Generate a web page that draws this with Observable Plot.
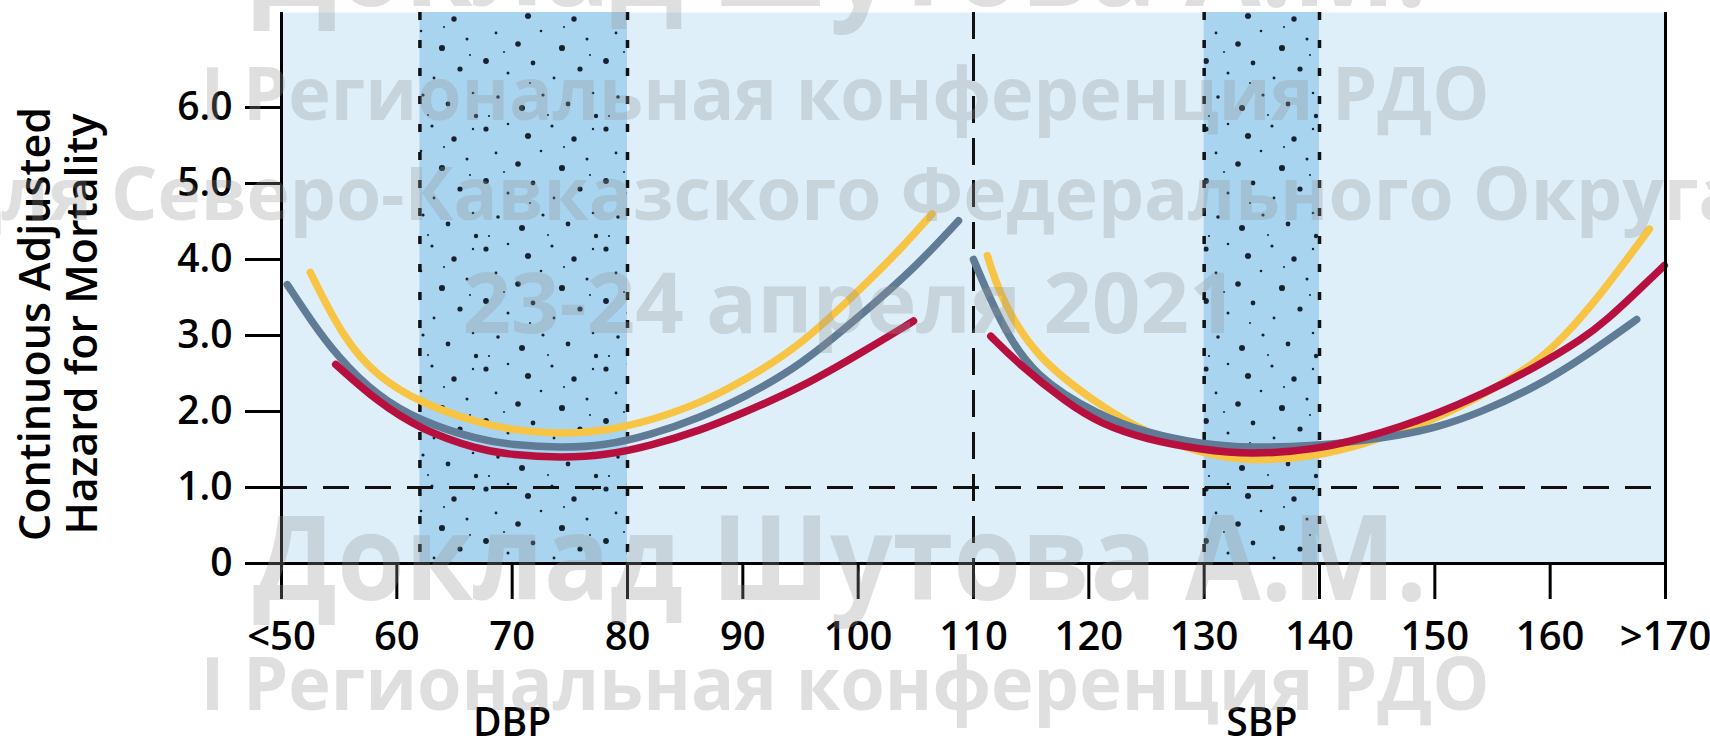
<!DOCTYPE html>
<html>
<head>
<meta charset="utf-8">
<script src="https://cdn.jsdelivr.net/npm/d3@7"></script>
<script src="https://cdn.jsdelivr.net/npm/@observablehq/plot@0.6"></script>
<style>
  body { margin: 0; background: #ffffff; }
  #wrap { position: relative; width: 1710px; height: 748px; overflow: hidden; }
  #wm { position: absolute; left: 0; top: 0; pointer-events: none; }
  #wm text { font-family: "Open Sans", sans-serif; font-weight: 700; fill: rgba(150,150,150,0.30); }
</style>
</head>
<body>
<svg width="0" height="0" style="position:absolute">
  <defs>
    <pattern id="stipple" patternUnits="userSpaceOnUse" width="120" height="120">
      <g fill="#16222f">
        <circle cx="6" cy="9" r="2.6"/><circle cx="28" cy="4" r="1.3"/><circle cx="48" cy="16" r="3.0"/>
        <circle cx="72" cy="6" r="1.6"/><circle cx="94" cy="19" r="2.7"/><circle cx="113" cy="9" r="1.2"/>
        <circle cx="16" cy="33" r="1.4"/><circle cx="38" cy="44" r="2.8"/><circle cx="61" cy="31" r="1.3"/>
        <circle cx="82" cy="48" r="3.1"/><circle cx="107" cy="39" r="1.5"/><circle cx="6" cy="61" r="2.9"/>
        <circle cx="28" cy="73" r="1.5"/><circle cx="53" cy="63" r="2.4"/><circle cx="74" cy="78" r="1.4"/>
        <circle cx="100" cy="69" r="2.6"/><circle cx="18" cy="97" r="1.8"/><circle cx="42" cy="108" r="3.0"/>
        <circle cx="63" cy="95" r="1.6"/><circle cx="88" cy="104" r="2.4"/><circle cx="113" cy="93" r="1.3"/>
        <circle cx="116" cy="116" r="2.2"/><circle cx="9" cy="116" r="1.1"/><circle cx="50" cy="83" r="1.0"/>
        <circle cx="84" cy="27" r="1.0"/><circle cx="24" cy="52" r="1.0"/><circle cx="68" cy="115" r="1.0"/>
        <circle cx="110" cy="55" r="1.0"/>
      </g>
    </pattern>
  </defs>
</svg>
<div id="wrap"></div>
<script>
// ---- Axis ticks and labels ----
const xTicks = [50, 60, 70, 80, 90, 100, 110, 120, 130, 140, 150, 160, 170];
const xTickLabels = ["<50", "60", "70", "80", "90", "100", "110", "120", "130", "140", "150", "160", ">170"];
const yTicks = [0, 1, 2, 3, 4, 5, 6];
const yTickLabels = ["0", "1.0", "2.0", "3.0", "4.0", "5.0", "6.0"];
const yTitle = "Continuous Adjusted\nHazard for Mortality";

// ---- Sections and reference lines ----
const sectionNames = ["DBP", "SBP"];
const sectionCenters = [70, 135];
const bandStart = [62, 130];
const bandEnd = [80, 140];
const sectionDivider = [110];
const referenceHazard = [1];

// ---- DBP curves ----
const dbpYellowX = [52.5, 55.4, 58.3, 62.1, 67, 70, 74, 78, 82, 86.3, 90, 95, 100.8, 103.7, 106.4];
const dbpYellowY = [3.83, 2.95, 2.46, 2.11, 1.85, 1.76, 1.70, 1.74, 1.88, 2.11, 2.40, 2.86, 3.70, 4.14, 4.60];
const dbpGrayX = [50.5, 52.5, 54.8, 58.3, 62.1, 67, 70, 74.2, 78, 82, 86.3, 90, 95, 100.8, 105.1, 108.7];
const dbpGrayY = [3.67, 3.21, 2.73, 2.20, 1.87, 1.63, 1.56, 1.52, 1.55, 1.69, 1.92, 2.18, 2.60, 3.34, 3.92, 4.51];
const dbpRedX = [54.7, 58.3, 62.1, 67, 70, 74.2, 78, 82, 86.3, 90, 95, 100.8, 104.8];
const dbpRedY = [2.62, 2.13, 1.76, 1.50, 1.43, 1.39, 1.42, 1.55, 1.75, 1.98, 2.31, 2.82, 3.19];

// ---- SBP curves ----
const sbpYellowX = [111.2, 112.3, 115.2, 121, 125, 129.7, 134, 139.8, 144, 147, 150, 154, 158.6, 161, 164.2, 168.6];
const sbpYellowY = [4.05, 3.52, 2.73, 2.07, 1.72, 1.45, 1.34, 1.41, 1.58, 1.74, 1.90, 2.20, 2.62, 2.95, 3.50, 4.40];
const sbpGrayX = [110, 112.3, 115.2, 121, 125, 129.7, 134, 139.8, 144, 147, 150, 154, 158.6, 162.9, 167.5];
const sbpGrayY = [4.00, 3.17, 2.46, 1.94, 1.72, 1.57, 1.52, 1.55, 1.62, 1.69, 1.78, 1.99, 2.31, 2.71, 3.21];
const sbpRedX = [111.5, 113.8, 118.1, 121, 125, 129.7, 134, 139.8, 144, 147, 150, 154, 158.6, 162.9, 165, 167, 169.9];
const sbpRedY = [2.99, 2.64, 2.11, 1.84, 1.63, 1.50, 1.43, 1.50, 1.66, 1.80, 1.96, 2.22, 2.57, 2.96, 3.22, 3.50, 3.92];

// ---- build tables ----
function rows(xs, ys, section) { return xs.map((x, i) => ({x, y: ys[i], section})); }
const yellowRows = [...rows(dbpYellowX, dbpYellowY, "DBP"), ...rows(sbpYellowX, sbpYellowY, "SBP")];
const grayRows = [...rows(dbpGrayX, dbpGrayY, "DBP"), ...rows(sbpGrayX, sbpGrayY, "SBP")];
const redRows = [...rows(dbpRedX, dbpRedY, "DBP"), ...rows(sbpRedX, sbpRedY, "SBP")];
const bands = bandStart.map((s, i) => ({start: s, end: bandEnd[i]}));
const bandEdges = [...bandStart, ...bandEnd];

const lineStyle = {x: "x", y: "y", z: "section", curve: "basis", strokeWidth: 7.5, strokeLinecap: "round"};

const chart = Plot.plot({
  width: 1710,
  height: 748,
  marginLeft: 281,
  marginRight: 45,
  marginTop: 12,
  marginBottom: 185,
  x: {domain: [xTicks[0], xTicks[xTicks.length - 1]]},
  y: {domain: [0, 7.25]},
  style: {fontFamily: "'Open Sans', sans-serif", color: "#000", background: "transparent", overflow: "visible"},
  marks: [
    Plot.frame({fill: "#deeffa", stroke: null}),
    Plot.rect(bands, {x1: "start", x2: "end", fill: "#a9d4ef"}),
    Plot.rect(bands, {x1: "start", x2: "end", fill: "url(#stipple)"}),
    Plot.ruleX(bandEdges, {stroke: "#111", strokeWidth: 3.5, strokeDasharray: "8,20"}),
    Plot.ruleY(referenceHazard, {stroke: "#111", strokeWidth: 3, strokeDasharray: "26,16"}),
    Plot.ruleX(sectionDivider, {stroke: "#111", strokeWidth: 3, strokeDasharray: "27,15"}),
    Plot.line(yellowRows, {...lineStyle, stroke: "#f8c443"}),
    Plot.line(grayRows, {...lineStyle, stroke: "#5f7b95"}),
    Plot.line(redRows, {...lineStyle, stroke: "#b7103f"}),
    Plot.ruleY([yTicks[0]], {stroke: "#000", strokeWidth: 3}),
    Plot.ruleX([xTicks[0], xTicks[xTicks.length - 1]], {stroke: "#000", strokeWidth: 3}),
    Plot.axisX({ticks: xTicks, tickFormat: d => xTickLabels[xTicks.indexOf(d)], tickSize: 36, tickPadding: 22,
      strokeWidth: 3, fontSize: 40, fontWeight: 600, label: null}),
    Plot.axisY({ticks: yTicks, tickFormat: d => yTickLabels[yTicks.indexOf(d)], tickSize: 36, tickPadding: 13,
      strokeWidth: 3, fontSize: 39, fontWeight: 600, label: null}),
    Plot.text(sectionNames, {x: (d, i) => sectionCenters[i], text: d => d, frameAnchor: "bottom",
      lineAnchor: "top", dy: 145, fontSize: 39, fontWeight: 600, fill: "#000"}),
    Plot.text([yTitle], {frameAnchor: "left", rotate: -90, textAnchor: "middle", lineAnchor: "middle",
      lineHeight: 1.08, dx: -223, dy: 36, fontSize: 43, fontWeight: 600, fill: "#000"})
  ]
});
document.getElementById("wrap").appendChild(chart);

// ---- watermark overlay ----
const watermark = [
  {t: "Доклад Шутова А.М.", x: 840, y: 6, s: 118, len: 1174, a: "middle"},
  {t: "I Региональная конференция РДО", x: 845, y: 120, s: 73, len: 1289, a: "middle"},
  {t: "для", x: 92, y: 220, s: 73, len: null, a: "end"},
  {t: "Северо-Кавказского Федерального Округа", x: 111, y: 220, s: 73, len: null, a: "start"},
  {t: "23-24 апреля 2021", x: 850, y: 333, s: 84, len: 775, a: "middle"},
  {t: "Доклад Шутова А.М.", x: 840, y: 600, s: 118, len: 1174, a: "middle"},
  {t: "I Региональная конференция РДО", x: 845, y: 710, s: 73, len: 1289, a: "middle"}
];
const wm = d3.select("#wrap").append("svg").attr("id", "wm").attr("width", 1710).attr("height", 748);
wm.selectAll("text").data(watermark).join("text")
  .attr("x", d => d.x).attr("y", d => d.y)
  .attr("text-anchor", d => d.a)
  .attr("font-size", d => d.s)
  .attr("textLength", d => d.len)
  .attr("lengthAdjust", "spacingAndGlyphs")
  .text(d => d.t);
</script>
</body>
</html>
